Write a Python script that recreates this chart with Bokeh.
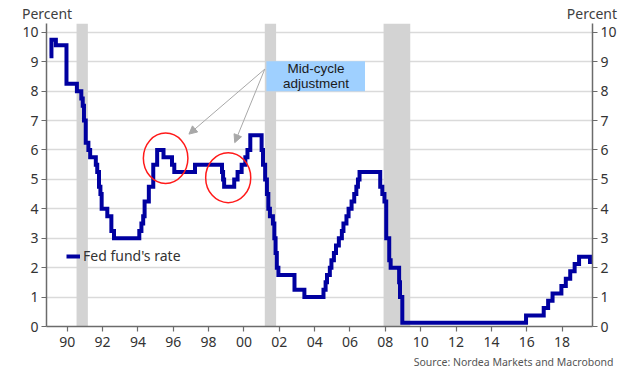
from bokeh.plotting import figure
from bokeh.models import (BoxAnnotation, Label, LinearAxis, FixedTicker, Range1d,
                          Legend, LegendItem, Arrow, NormalHead, Title)
from bokeh.embed import file_html
from bokeh.resources import INLINE

# ---- data ----
dates = [1989.00, 1989.11, 1989.36, 1989.96, 1990.55, 1990.80, 1990.88, 1990.95,
         1991.05, 1991.20, 1991.30, 1991.62, 1991.70, 1991.80, 1991.88, 1991.95,
         1992.27, 1992.50, 1992.65, 1994.08, 1994.20, 1994.30, 1994.38, 1994.62,
         1994.87, 1995.09, 1995.45, 1995.93, 1996.06, 1997.23, 1998.76, 1998.82,
         1998.88, 1999.45, 1999.64, 1999.87, 2000.08, 2000.20, 2000.36, 2001.00,
         2001.08, 2001.20, 2001.30, 2001.38, 2001.47, 2001.64, 2001.72, 2001.79,
         2001.86, 2001.95, 2002.86, 2003.42, 2004.50, 2004.62, 2004.70, 2004.86,
         2004.95, 2005.09, 2005.21, 2005.37, 2005.54, 2005.63, 2005.80, 2005.92,
         2006.09, 2006.24, 2006.36, 2006.45, 2006.54, 2007.71, 2007.83, 2007.95,
         2008.05, 2008.22, 2008.30, 2008.78, 2008.83, 2008.96, 2015.96, 2016.96,
         2017.21, 2017.46, 2017.96, 2018.21, 2018.46, 2018.71, 2018.96, 2019.58]
rates = [9.19, 9.75, 9.56, 8.25, 8.00, 7.75, 7.50, 7.00,
         6.25, 6.00, 5.75, 5.50, 5.25, 4.75, 4.50, 4.00,
         3.75, 3.25, 3.00, 3.25, 3.50, 3.75, 4.25, 4.75,
         5.50, 6.00, 5.75, 5.50, 5.25, 5.50, 5.25, 5.00,
         4.75, 5.00, 5.25, 5.50, 5.75, 6.00, 6.50, 6.00,
         5.50, 5.00, 4.50, 4.00, 3.75, 3.50, 3.00, 2.50,
         2.00, 1.75, 1.25, 1.00, 1.25, 1.50, 1.75, 2.00,
         2.25, 2.50, 2.75, 3.00, 3.25, 3.50, 3.75, 4.00,
         4.25, 4.50, 4.75, 5.00, 5.25, 4.75, 4.50, 4.25,
         3.00, 2.25, 2.00, 1.50, 1.00, 0.125, 0.375, 0.625,
         0.875, 1.125, 1.375, 1.625, 1.875, 2.125, 2.375, 2.125]

recession_start = [1990.53, 2001.18, 2007.90]
recession_end = [1991.17, 2001.82, 2009.41]

x_ticks = [1990, 1992, 1994, 1996, 1998, 2000, 2002, 2004, 2006, 2008,
           2010, 2012, 2014, 2016, 2018]
x_tick_labels = ["90", "92", "94", "96", "98", "00", "02", "04", "06", "08",
                 "10", "12", "14", "16", "18"]
y_ticks = [0, 1, 2, 3, 4, 5, 6, 7, 8, 9, 10]
unit_label = "Percent"

# annotation shapes (mid-cycle adjustments)
circle_x = [1995.57, 1999.11]
circle_y = [5.72, 5.06]
circle_w = [2.52, 2.55]
circle_h = [1.71, 1.70]

FONT = "Noto Sans"
TXT = "#333333"
AXIS = "#6b6b6b"

p = figure(width=625, height=381, output_backend="svg", toolbar_location=None,
           x_range=Range1d(1988.83, 2019.72), y_range=Range1d(0, 10.3),
           min_border_left=46, min_border_right=33, min_border_top=22,
           min_border_bottom=55)
p.outline_line_color = None
p.background_fill_color = "white"
p.border_fill_color = "white"
p.extra_x_ranges = {"unit": Range1d(-0.001, 1.001)}

# recession bands
for s, e in zip(recession_start, recession_end):
    p.add_layout(BoxAnnotation(left=s, right=e, fill_color="#d3d3d3", fill_alpha=1.0,
                               line_color=None, level="underlay"))

# grid
p.xgrid.grid_line_color = None
p.ygrid.grid_line_color = "#dadada"
p.ygrid.grid_line_width = 1.5
p.ygrid.ticker = FixedTicker(ticks=y_ticks)


def style_axis(ax):
    ax.axis_line_color = AXIS
    ax.axis_line_width = 1.5
    ax.major_tick_line_color = AXIS
    ax.major_tick_line_width = 1.2
    ax.major_tick_in = 0
    ax.major_tick_out = 5
    ax.minor_tick_line_color = None
    ax.major_label_text_font = FONT
    ax.major_label_text_font_size = "14px"
    ax.major_label_text_color = TXT


p.xaxis.ticker = FixedTicker(ticks=x_ticks)
p.xaxis.major_label_overrides = {t: l for t, l in zip(x_ticks, x_tick_labels)}
p.xaxis.major_label_standoff = 5
style_axis(p.xaxis[0])

p.yaxis.ticker = FixedTicker(ticks=y_ticks)
p.yaxis.major_label_standoff = 3
style_axis(p.yaxis[0])

right = LinearAxis(ticker=FixedTicker(ticks=y_ticks))
right.major_label_standoff = 3
style_axis(right)
p.add_layout(right, "right")

# "Percent" unit labels above both y axes
top = LinearAxis(x_range_name="unit", ticker=FixedTicker(ticks=[0, 1]))
top.major_label_overrides = {0: unit_label, 1: unit_label}
top.axis_line_color = None
top.major_tick_line_color = None
top.minor_tick_line_color = None
top.major_tick_out = 0
top.major_tick_in = 0
top.major_label_standoff = 1
top.major_label_text_font = FONT
top.major_label_text_font_size = "14px"
top.major_label_text_color = "#404040"
p.add_layout(top, "above")

# line
line = p.step(dates, rates, mode="after", line_color="#0000a0", line_width=4,
              line_join="miter")

# red circles
p.ellipse(x=circle_x, y=circle_y, width=circle_w, height=circle_h,
          fill_color=None, line_color="#ff1a1a", line_width=1.5)

# mid-cycle box
p.add_layout(BoxAnnotation(left=2001.27, right=2006.85, bottom=8.0, top=9.02,
                           fill_color="#9fd0ff", fill_alpha=1.0, line_color=None))
p.add_layout(Label(x=2004.08, y=8.76, text="Mid-cycle", text_align="center",
                   text_baseline="middle", text_font="Liberation Sans",
                   text_font_size="13.5px", text_color="#1a1a1a"))
p.add_layout(Label(x=2004.08, y=8.25, text="adjustment", text_align="center",
                   text_baseline="middle", text_font="Liberation Sans",
                   text_font_size="13.5px", text_color="#1a1a1a"))

for xe, ye in [(1996.89, 6.54), (1999.48, 6.25)]:
    p.add_layout(Arrow(x_start=2001.18, y_start=8.75, x_end=xe, y_end=ye,
                       line_color="#a8a8a8", line_width=1,
                       end=NormalHead(size=8, fill_color="#a8a8a8",
                                      line_color="#a8a8a8")))

# legend
legend = Legend(items=[LegendItem(label="Fed fund's rate", renderers=[line])],
                location=(20, 61), padding=0, margin=0, spacing=0,
                glyph_width=14, glyph_height=16, label_height=16,
                label_standoff=3, label_text_font=FONT,
                label_text_font_size="14px", label_text_color=TXT,
                background_fill_alpha=0, border_line_alpha=0)
p.add_layout(legend)

# source
p.add_layout(Title(text="Source: Nordea Markets and Macrobond", align="right",
                   offset=-21, standoff=6, text_font=FONT, text_font_size="10.5px",
                   text_color="#555555", text_font_style="normal"), "below")

open("out.html", "w").write(file_html(p, INLINE))
